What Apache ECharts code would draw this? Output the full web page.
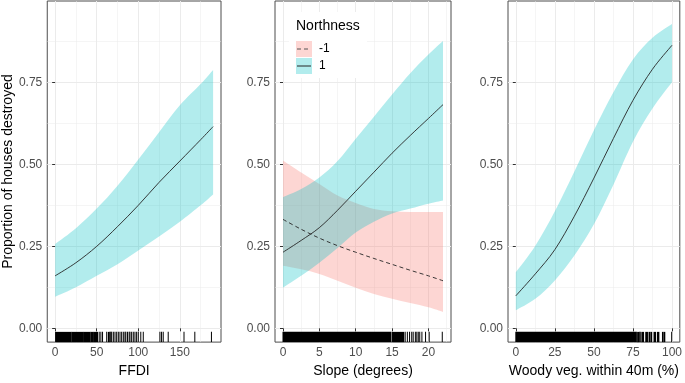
<!DOCTYPE html>
<html>
<head>
  <meta charset="utf-8">
  <style>
    html, body { margin: 0; padding: 0; width: 100%; height: 100%; overflow: hidden; background: #fff; }
  </style>
  <script src="https://cdn.jsdelivr.net/npm/echarts/dist/echarts.min.js"></script>
</head>
<body>
  <div id="container" style="width: 685px; height: 383px;"></div>
  <script>
    // panel 1: FFDI
    const ffdiX = [0, 25, 50, 75, 100, 125, 150, 175, 190];
    const ffdiFit = [0.160, 0.200, 0.250, 0.310, 0.375, 0.445, 0.510, 0.575, 0.615];
    const ffdiHigh = [0.257, 0.305, 0.365, 0.435, 0.515, 0.598, 0.680, 0.745, 0.788];
    const ffdiLow = [0.096, 0.125, 0.160, 0.195, 0.237, 0.280, 0.325, 0.375, 0.408];

    // panel 2: slope, by northness
    const slopeX = [0, 2.5, 5, 7.5, 10, 12.5, 15, 17.5, 20, 22];
    const northFit = [0.232, 0.268, 0.307, 0.360, 0.418, 0.476, 0.534, 0.588, 0.640, 0.682];
    const northHigh = [0.400, 0.425, 0.460, 0.510, 0.578, 0.645, 0.713, 0.778, 0.835, 0.876];
    const northLow = [0.124, 0.160, 0.200, 0.245, 0.292, 0.325, 0.350, 0.365, 0.380, 0.390];
    const southFit = [0.332, 0.302, 0.275, 0.252, 0.232, 0.213, 0.195, 0.177, 0.160, 0.145];
    const southHigh = [0.512, 0.475, 0.440, 0.405, 0.382, 0.364, 0.357, 0.355, 0.355, 0.355];
    const southLow = [0.191, 0.180, 0.166, 0.145, 0.124, 0.105, 0.090, 0.077, 0.064, 0.050];

    // panel 3: woody vegetation
    const woodyX = [0, 12.5, 25, 37.5, 50, 62.5, 75, 87.5, 100];
    const woodyFit = [0.099, 0.166, 0.240, 0.342, 0.458, 0.579, 0.695, 0.790, 0.863];
    const woodyHigh = [0.171, 0.252, 0.357, 0.478, 0.604, 0.720, 0.820, 0.886, 0.928];
    const woodyLow = [0.055, 0.090, 0.146, 0.222, 0.317, 0.438, 0.569, 0.670, 0.750];

    // rug marks [from, to]
    const ffdiRug = [[0.5, 19], [20, 34], [35, 42], [43, 46], [47, 51], [53, 53], [55, 55], [57, 57],
      [62, 62], [64, 65], [66, 66], [67, 67], [68, 68], [70, 70], [72, 72], [74, 74], [76, 76], [78, 78],
      [80, 80], [82, 82], [84, 84], [85, 85], [87, 87], [89, 89], [90, 90], [92, 92], [94, 94], [96, 96],
      [98, 98], [100, 100], [103, 103], [106, 106], [126, 126], [128, 128], [130, 130], [136, 136],
      [155, 155], [168, 168], [188, 188]];
    const slopeRug = [[0, 14.85], [15.05, 16.6], [16.8, 16.8], [17.1, 17.1], [17.4, 17.4], [17.7, 17.7],
      [17.9, 17.9], [18.2, 18.2], [18.4, 18.4], [18.6, 18.6], [18.8, 18.8], [19.1, 19.1], [19.6, 19.6],
      [20.1, 20.1], [21.9, 21.9]];
    const woodyRug = [[0, 77.2], [78, 78.6], [79.3, 79.7], [80.7, 81.8], [83.2, 84.3], [85.3, 85.8],
      [86.5, 87], [88.5, 89.5], [90.7, 91.6], [93.9, 94.3], [95, 95.4], [99.8, 99.8]];

    const yTicks = [0, 0.25, 0.5, 0.75];
    const yMinor = [0.125, 0.375, 0.625, 0.875];
    const Y_MIN = -0.042, Y_MAX = 0.998;

    const panels = [
      { min: -9.5, max: 199.5, ticks: [0, 50, 100, 150], minor: [25, 75, 125, 175], title: 'FFDI', left: 45, width: 176 },
      { min: -1.1, max: 23.1, ticks: [0, 5, 10, 15, 20], minor: [2.5, 7.5, 12.5, 17.5, 22.5], title: 'Slope (degrees)', left: 275, width: 176 },
      { min: -5, max: 105, ticks: [0, 25, 50, 75, 100], minor: [12.5, 37.5, 62.5, 87.5], title: 'Woody veg. within 40m (%)', left: 508, width: 174 }
    ];

    const TEAL = 'rgba(0, 191, 196, 0.3)';
    const PINK = 'rgba(248, 118, 109, 0.3)';
    const FONT = 'Liberation Sans, Arial, sans-serif';

    var dom = document.getElementById('container');
    var myChart = echarts.init(dom, null, { renderer: 'canvas' });

    const grid = panels.map(p => ({
      left: p.left, top: 1, width: p.width, height: 345,
      show: true, borderColor: '#4d4d4d', borderWidth: 1, backgroundColor: 'transparent'
    }));

    const xAxis = [];
    const yAxis = [];
    panels.forEach((p, i) => {
      xAxis.push({
        type: 'value', gridIndex: i, min: p.min, max: p.max,
        name: p.title, nameLocation: 'middle', nameGap: 19,
        nameTextStyle: { color: '#000', fontSize: 14, fontFamily: FONT },
        axisLine: { show: false },
        axisTick: { show: true, length: 3, lineStyle: { color: '#333' }, customValues: p.ticks },
        axisLabel: { color: '#4d4d4d', fontSize: 12, fontFamily: FONT, margin: 5, customValues: p.ticks },
        splitLine: { show: true, lineStyle: { color: '#ebebeb', width: 1 } }
      });
      yAxis.push({
        type: 'value', gridIndex: i, min: Y_MIN, max: Y_MAX,
        name: i === 0 ? 'Proportion of houses destroyed' : '',
        nameLocation: 'middle', nameGap: 28, nameRotate: 90,
        nameTextStyle: { color: '#000', fontSize: 14, fontFamily: FONT },
        axisLine: { show: false },
        axisTick: { show: true, length: 3, lineStyle: { color: '#333' }, customValues: yTicks },
        axisLabel: { color: '#4d4d4d', fontSize: 12, fontFamily: FONT, margin: 5, customValues: yTicks,
          formatter: v => v.toFixed(2) },
        splitLine: { show: true, lineStyle: { color: '#ebebeb', width: 1 } }
      });
    });
    // minor grid lines
    panels.forEach((p, i) => {
      xAxis.push({
        type: 'value', gridIndex: i, min: p.min, max: p.max,
        axisLine: { show: false }, axisLabel: { show: false },
        axisTick: { show: false, customValues: p.minor },
        splitLine: { show: true, lineStyle: { color: '#ebebeb', width: 0.5 } }
      });
      yAxis.push({
        type: 'value', gridIndex: i, min: Y_MIN, max: Y_MAX,
        axisLine: { show: false }, axisLabel: { show: false },
        axisTick: { show: false, customValues: yMinor },
        splitLine: { show: true, lineStyle: { color: '#ebebeb', width: 0.5 } }
      });
    });

    // smooth path through pixel points (catmull-rom as cubic bezier)
    function splinePath(pts, start) {
      let d = start ? 'M' + pts[0][0] + ',' + pts[0][1] : 'L' + pts[0][0] + ',' + pts[0][1];
      for (let i = 0; i < pts.length - 1; i++) {
        const p0 = pts[Math.max(0, i - 1)], p1 = pts[i], p2 = pts[i + 1], p3 = pts[Math.min(pts.length - 1, i + 2)];
        const c1 = [p1[0] + (p2[0] - p0[0]) / 6, p1[1] + (p2[1] - p0[1]) / 6];
        const c2 = [p2[0] - (p3[0] - p1[0]) / 6, p2[1] - (p3[1] - p1[1]) / 6];
        d += 'C' + c1[0] + ',' + c1[1] + ',' + c2[0] + ',' + c2[1] + ',' + p2[0] + ',' + p2[1];
      }
      return d;
    }

    function band(g, xs, lo, hi, color) {
      return {
        type: 'custom', xAxisIndex: g, yAxisIndex: g, silent: true, z: 2,
        encode: { x: 0, y: [1, 2] },
        data: xs.map((x, i) => [x, lo[i], hi[i]]),
        renderItem: (params, api) => {
          if (params.dataIndex !== 0) return null;
          const up = xs.map((x, i) => api.coord([x, hi[i]]));
          const down = xs.map((x, i) => api.coord([x, lo[i]])).reverse();
          const d = splinePath(up, true) + splinePath(down, false) + 'Z';
          return { type: 'path', shape: { pathData: d }, style: { fill: color } };
        }
      };
    }

    function fitLine(g, xs, ys, dashed) {
      return {
        type: 'custom', xAxisIndex: g, yAxisIndex: g, silent: true, z: 3,
        encode: { x: 0, y: 1 },
        data: xs.map((x, i) => [x, ys[i]]),
        renderItem: (params, api) => {
          if (params.dataIndex !== 0) return null;
          const pts = xs.map((x, i) => api.coord([x, ys[i]]));
          return {
            type: 'path', shape: { pathData: splinePath(pts, true) },
            style: { fill: null, stroke: '#262626', lineWidth: 0.9, lineDash: dashed ? [4, 3] : null }
          };
        }
      };
    }

    function rug(g, marks) {
      return {
        type: 'custom', xAxisIndex: g, yAxisIndex: g, silent: true, z: 4,
        encode: { x: [0, 1] },
        data: marks,
        renderItem: (params, api) => {
          const a = api.coord([api.value(0), Y_MIN]);
          const b = api.coord([api.value(1), Y_MIN]);
          const t = api.coord([api.value(0), Y_MIN + 0.03 * (Y_MAX - Y_MIN)]);
          return {
            type: 'rect',
            shape: { x: a[0] - 0.5, y: t[1], width: Math.max(1, b[0] - a[0] + 1), height: a[1] - t[1] },
            style: { fill: '#000' }
          };
        }
      };
    }

    const series = [
      band(0, ffdiX, ffdiLow, ffdiHigh, TEAL),
      fitLine(0, ffdiX, ffdiFit, false),
      rug(0, ffdiRug),
      band(1, slopeX, southLow, southHigh, PINK),
      band(1, slopeX, northLow, northHigh, TEAL),
      fitLine(1, slopeX, southFit, true),
      fitLine(1, slopeX, northFit, false),
      rug(1, slopeRug),
      band(2, woodyX, woodyLow, woodyHigh, TEAL),
      fitLine(2, woodyX, woodyFit, false),
      rug(2, woodyRug)
    ];

    // legend drawn inside the slope panel
    const graphic = [
      { type: 'rect', left: 289, top: 12, shape: { width: 78, height: 66 }, style: { fill: '#fff' }, z: 10 },
      { type: 'text', left: 296, top: 19, style: { text: 'Northness', fontSize: 14, fontFamily: FONT, fill: '#000' }, z: 11 },
      { type: 'rect', left: 296, top: 41, shape: { width: 16, height: 16 }, style: { fill: PINK }, z: 11 },
      { type: 'line', shape: { x1: 297, y1: 49, x2: 311, y2: 49 }, style: { stroke: '#555', lineWidth: 1, lineDash: [4, 3] }, z: 12 },
      { type: 'rect', left: 296, top: 58, shape: { width: 16, height: 16 }, style: { fill: TEAL }, z: 11 },
      { type: 'line', shape: { x1: 297, y1: 66, x2: 311, y2: 66 }, style: { stroke: '#262626', lineWidth: 1 }, z: 12 },
      { type: 'text', left: 319, top: 43, style: { text: '-1', fontSize: 12, fontFamily: FONT, fill: '#000' }, z: 11 },
      { type: 'text', left: 319, top: 60, style: { text: '1', fontSize: 12, fontFamily: FONT, fill: '#000' }, z: 11 }
    ];

    const option = {
      animation: false,
      backgroundColor: '#fff',
      textStyle: { fontFamily: FONT },
      grid: grid,
      xAxis: xAxis,
      yAxis: yAxis,
      series: series,
      graphic: graphic
    };
    myChart.setOption(option);
    window.addEventListener('resize', myChart.resize);
  </script>
</body>
</html>
